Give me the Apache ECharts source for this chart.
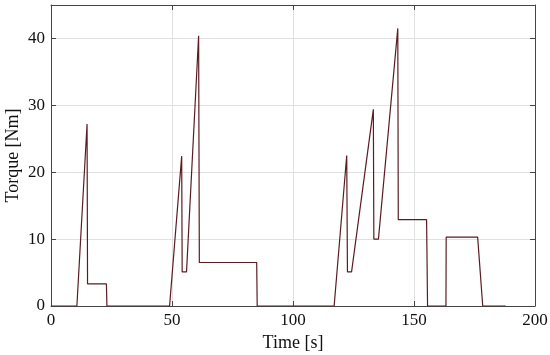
<!DOCTYPE html>
<html><head><meta charset="utf-8">
<script src="https://cdn.jsdelivr.net/npm/echarts@6/dist/echarts.min.js"></script>
<style>html,body{margin:0;padding:0;background:#fff}#c{width:550px;height:355px}</style>
</head><body><div id="c"></div>
<script>
const times   = [0, 10.7, 14.9, 15.1, 22.9, 23.1, 49, 54, 54.2, 56, 61, 61.3, 85, 85.2, 117, 122.2, 122.5, 124.2, 133.2, 133.4, 135.3, 143.3, 143.5, 155.2, 155.6, 163.2, 163.3, 176.3, 178.4, 187.9];
const torques = [0, 0, 27.2, 3.3, 3.3, 0, 0, 22.4, 5.1, 5.1, 40.4, 6.5, 6.5, 0, 0, 22.5, 5.1, 5.1, 29.4, 10, 10, 41.5, 12.9, 12.9, 0, 0, 10.3, 10.3, 0, 0];
const xTicks = [0, 50, 100, 150, 200];
const yTicks = [0, 10, 20, 30, 40];

const font = 'Liberation Serif';
const axisCol = '#444';
const txtCol = '#111';
const chart = echarts.init(document.getElementById('c'));
const data = times.map((t, i) => [t, torques[i]]);
const common = {
  axisLine: {show: true, onZero: false, lineStyle: {color: axisCol, width: 1}},
  axisTick: {show: true, inside: true, length: 5, lineStyle: {color: axisCol}},
};
chart.setOption({
  animation: false,
  grid: {left: 51, right: 15, top: 5, bottom: 49, containLabel: false, outerBoundsMode: 'none'},
  xAxis: [
    Object.assign({type: 'value', min: 0, max: 200, interval: 50,
      name: 'Time [s]', nameLocation: 'middle', nameGap: 28, nameMoveOverlap: false,
      nameTextStyle: {fontFamily: font, fontSize: 18, color: txtCol},
      axisLabel: {fontFamily: font, fontSize: 17, color: txtCol, margin: 6,
        formatter: v => xTicks.includes(v) ? String(v) : ''},
      splitLine: {show: true, lineStyle: {color: '#e0e0e0', width: 1}}}, common),
    Object.assign({type: 'value', position: 'top', min: 0, max: 200, interval: 50,
      axisLabel: {show: false}, splitLine: {show: false}}, common)
  ],
  yAxis: [
    Object.assign({type: 'value', min: 0, max: 45, interval: 10,
      name: 'Torque [Nm]', nameLocation: 'middle', nameGap: 29, nameMoveOverlap: false,
      nameTextStyle: {fontFamily: font, fontSize: 18, color: txtCol},
      axisLabel: {fontFamily: font, fontSize: 17, color: txtCol, margin: 6,
        formatter: v => yTicks.includes(v) ? String(v) : ''},
      splitLine: {show: true, lineStyle: {color: '#e0e0e0', width: 1}}}, common),
    Object.assign({type: 'value', position: 'right', min: 0, max: 45, interval: 10,
      axisLabel: {show: false}, splitLine: {show: false}}, common)
  ],
  series: [{
    type: 'line', data: data, showSymbol: false, symbol: 'none',
    lineStyle: {color: '#5a1c22', width: 1.2}, xAxisIndex: 0, yAxisIndex: 0
  }]
});
</script></body></html>
